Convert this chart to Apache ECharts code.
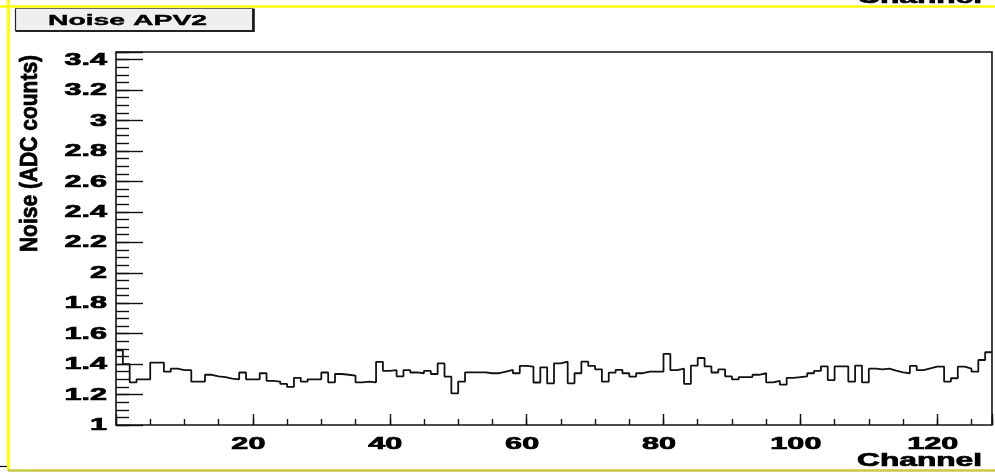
<!DOCTYPE html>
<html>
<head>
<meta charset="utf-8">
<script src="https://cdn.jsdelivr.net/npm/echarts@6/dist/echarts.min.js"></script>
<style>
html,body{margin:0;padding:0;background:#fff;}
#c{width:995px;height:472px;}
</style>
</head>
<body>
<div id="c"></div>
<script>
// ---- data ----
const channelCount = 128;
const noise = [
  1.49,1.40,1.28,1.30,1.30,1.41,1.41,1.35,1.37,1.36,
  1.36,1.285,1.285,1.33,1.32,1.315,1.305,1.30,1.345,1.30,
  1.30,1.34,1.29,1.285,1.27,1.25,1.31,1.285,1.30,1.30,
  1.345,1.28,1.335,1.33,1.325,1.28,1.285,1.28,1.415,1.355,
  1.36,1.32,1.36,1.345,1.34,1.355,1.335,1.405,1.318,1.208,
  1.285,1.346,1.346,1.346,1.34,1.34,1.351,1.362,1.34,1.388,
  1.384,1.279,1.379,1.274,1.405,1.416,1.274,1.34,1.416,1.388,
  1.366,1.285,1.344,1.362,1.34,1.318,1.34,1.351,1.351,1.351,
  1.467,1.36,1.37,1.27,1.39,1.44,1.385,1.345,1.365,1.32,
  1.30,1.315,1.315,1.33,1.34,1.28,1.29,1.265,1.31,1.315,
  1.32,1.34,1.355,1.385,1.295,1.385,1.385,1.285,1.39,1.28,
  1.37,1.365,1.37,1.357,1.345,1.34,1.388,1.36,1.372,1.383,
  1.383,1.285,1.307,1.383,1.37,1.35,1.427,1.478
];
const xTickValues = [20, 40, 60, 80, 100, 120];
const xTickLabels = ['20', '40', '60', '80', '100', '120'];
const yTickValues = [1, 1.2, 1.4, 1.6, 1.8, 2, 2.2, 2.4, 2.6, 2.8, 3, 3.2, 3.4];
const yTickLabels = ['1', '1.2', '1.4', '1.6', '1.8', '2', '2.2', '2.4', '2.6', '2.8', '3', '3.2', '3.4'];
const titleText = 'Noise APV2';
const xTitleText = 'Channel';
const yTitleText = 'Noise (ADC counts)';

// ---- build histogram outline (bin edges) ----
const histData = noise.map((v, i) => [i, v]);
histData.push([channelCount, noise[noise.length - 1]]);

const chart = echarts.init(document.getElementById('c'), null, {renderer: 'canvas'});
const INK = '#111111';
const tickStyle = {color: INK, width: 1.4};

chart.setOption({
  animation: false,
  backgroundColor: '#ffffff',
  grid: {left: 116, right: 3, top: 52, bottom: 47, show: true,
         borderColor: INK, borderWidth: 1.6, backgroundColor: 'transparent'},
  xAxis: [
    {type: 'value', min: 0, max: channelCount, interval: 20, position: 'bottom',
     axisLine: {show: false}, axisTick: {show: true, inside: true, length: 11, lineStyle: tickStyle},
     axisLabel: {show: false}, splitLine: {show: false}},
    {type: 'value', min: 0, max: channelCount, interval: 5, position: 'bottom',
     axisLine: {show: false}, axisTick: {show: true, inside: true, length: 6, lineStyle: tickStyle},
     axisLabel: {show: false}, splitLine: {show: false}}
  ],
  yAxis: [
    {type: 'value', min: 1, max: 3.45, interval: 0.2, position: 'left',
     axisLine: {show: false}, axisTick: {show: true, inside: true, length: 27, lineStyle: tickStyle},
     axisLabel: {show: false}, splitLine: {show: false}},
    {type: 'value', min: 1, max: 3.45, interval: 0.05, position: 'left',
     axisLine: {show: false}, axisTick: {show: true, inside: true, length: 13, lineStyle: tickStyle},
     axisLabel: {show: false}, splitLine: {show: false}}
  ],
  series: [{
    type: 'line', xAxisIndex: 0, yAxisIndex: 0, data: histData, step: 'end',
    symbol: 'none', showSymbol: false, silent: true,
    lineStyle: {color: INK, width: 1.8}
  }]
});

// ---- texts and decorations positioned through the axes ----
const FONT = '"Liberation Sans", Arial, Helvetica, sans-serif';
const g = [];
const yBottom = chart.convertToPixel({yAxisIndex: 0}, 1);
const xLeft = chart.convertToPixel({xAxisIndex: 0}, 0);
const xRight = chart.convertToPixel({xAxisIndex: 0}, channelCount);
const heavy = {fill: '#000', stroke: '#000', lineWidth: 0.7};

xTickValues.forEach((v, i) => {
  const px = chart.convertToPixel({xAxisIndex: 0}, v);
  g.push({type: 'text', x: px - 4.5, y: yBottom + 19.5, scaleX: 1.8, z: 10,
    style: Object.assign({text: xTickLabels[i], font: 'bold 17px ' + FONT,
            textAlign: 'center', textVerticalAlign: 'middle'}, heavy)});
});
yTickValues.forEach((v, i) => {
  const py = chart.convertToPixel({yAxisIndex: 0}, v);
  g.push({type: 'text', x: xLeft - 9, y: py + 0.5, scaleX: 1.8, z: 10,
    style: Object.assign({text: yTickLabels[i], font: 'bold 17px ' + FONT,
            textAlign: 'right', textVerticalAlign: 'middle'}, heavy)});
});

// axis titles
g.push({type: 'text', x: xRight - 10, y: yBottom + 36.5, scaleX: 1.76, z: 10,
  style: Object.assign({text: xTitleText, font: 'bold 18px ' + FONT,
          textAlign: 'right', textVerticalAlign: 'middle'}, heavy)});
g.push({type: 'text', x: xRight - 10, y: -1.5, scaleX: 1.76, z: 10,
  style: Object.assign({text: xTitleText, font: 'bold 18px ' + FONT,
          textAlign: 'right', textVerticalAlign: 'middle'}, heavy)});
g.push({type: 'text', x: 31, y: 153.5, rotation: Math.PI / 2, scaleY: 1.1, z: 10,
  style: Object.assign({text: yTitleText, font: 'bold 21px ' + FONT,
          textAlign: 'center', textVerticalAlign: 'middle'}, heavy)});

// title box
g.push({type: 'rect', z: 10, shape: {x: 15.5, y: 8.5, width: 237, height: 22},
  style: {fill: '#efefef', stroke: '#6a6a6a', lineWidth: 1}});
g.push({type: 'line', z: 11, shape: {x1: 253.5, y1: 8.5, x2: 253.5, y2: 32}, style: {stroke: '#111', lineWidth: 2.5}});
g.push({type: 'line', z: 11, shape: {x1: 15.5, y1: 31, x2: 254.5, y2: 31}, style: {stroke: '#222', lineWidth: 2}});
g.push({type: 'line', z: 11, shape: {x1: 15.5, y1: 8.5, x2: 15.5, y2: 31}, style: {stroke: '#222', lineWidth: 1.2}});
g.push({type: 'text', x: 127.5, y: 20.5, scaleX: 1.89, z: 12,
  style: Object.assign({text: titleText, font: 'bold 15px ' + FONT,
          textAlign: 'center', textVerticalAlign: 'middle'}, {fill: '#000', stroke: '#000', lineWidth: 0.4})});

// yellow pad border
g.push({type: 'line', z: 20, shape: {x1: 0, y1: 6.5, x2: 995, y2: 6.5}, style: {stroke: '#ffff00', lineWidth: 2.5}});
g.push({type: 'line', z: 20, shape: {x1: 8.5, y1: 0, x2: 8.5, y2: 470}, style: {stroke: '#ffff00', lineWidth: 3}});
g.push({type: 'line', z: 20, shape: {x1: 8, y1: 470.5, x2: 995, y2: 470.5}, style: {stroke: '#c8c846', lineWidth: 2.5}});
g.push({type: 'line', z: 20, shape: {x1: 0, y1: 466.5, x2: 7, y2: 466.5}, style: {stroke: '#000', lineWidth: 1.2}});

chart.setOption({graphic: {elements: g}});
</script>
</body>
</html>
